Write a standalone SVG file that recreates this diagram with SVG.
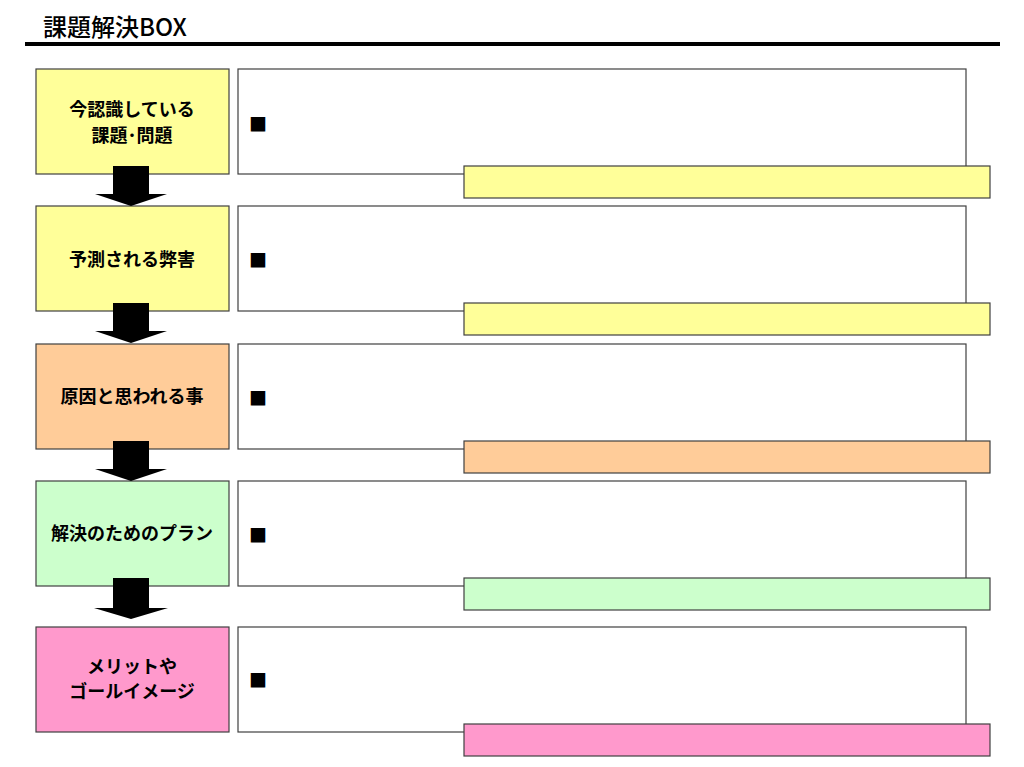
<svg xmlns="http://www.w3.org/2000/svg" width="1024" height="767" viewBox="0 0 1024 767">
<style>
.lbl{font-family:"Noto Sans CJK JP","Noto Sans CJK SC",sans-serif;font-weight:bold;font-size:18px;fill:#000;text-anchor:middle}
.sq{font-family:"Noto Sans CJK JP",sans-serif;font-size:18px;fill:#000}
.box{stroke:#404040;stroke-width:1.2}
.wb{fill:#fff;stroke:#404040;stroke-width:1.2}
.y{fill:#FFFF99}.o{fill:#FFCC99}.g{fill:#CCFFCC}.p{fill:#FF99CC}
.arr{fill:#000}
</style>
<rect width="1024" height="767" fill="#fff"/>
<g id="title">
<text x="43" y="36" font-family="Noto Sans CJK JP,sans-serif" font-size="24" font-weight="500">課題解決BOX</text>
<rect x="25" y="42" width="975" height="4" fill="#000"/>
</g>
<g id="n1">
<rect class="box y" x="36" y="69" width="193" height="105"/>
<text class="lbl" x="132" y="116">今認識している</text>
<text class="lbl" x="132" y="142">課題･問題</text>
<rect class="wb" x="238" y="69" width="728" height="105"/>
<text class="sq" x="249" y="131">■</text>
<rect class="box y" x="464" y="166" width="526" height="32"/>
</g>
<g id="n2">
<rect class="box y" x="36" y="206" width="193" height="105"/>
<text class="lbl" x="132" y="266">予測される弊害</text>
<rect class="wb" x="238" y="206" width="728" height="105"/>
<text class="sq" x="249" y="267">■</text>
<rect class="box y" x="464" y="303" width="526" height="32"/>
</g>
<g id="n3">
<rect class="box o" x="36" y="344" width="193" height="105"/>
<text class="lbl" x="132" y="403">原因と思われる事</text>
<rect class="wb" x="238" y="344" width="728" height="105"/>
<text class="sq" x="249" y="405">■</text>
<rect class="box o" x="464" y="441" width="526" height="32"/>
</g>
<g id="n4">
<rect class="box g" x="36" y="481" width="193" height="105"/>
<text class="lbl" x="132" y="540">解決のためのプラン</text>
<rect class="wb" x="238" y="481" width="728" height="105"/>
<text class="sq" x="249" y="542">■</text>
<rect class="box g" x="464" y="578" width="526" height="32"/>
</g>
<g id="n5">
<rect class="box p" x="36" y="627" width="193" height="105"/>
<text class="lbl" x="132" y="673">メリットや</text>
<text class="lbl" x="132" y="698">ゴールイメージ</text>
<rect class="wb" x="238" y="627" width="728" height="105"/>
<text class="sq" x="249" y="687">■</text>
<rect class="box p" x="464" y="724" width="526" height="32"/>
</g>
<g id="connectors">
<polygon class="arr" points="113,166 149,166 149,194 167,194 131,206 95,194 113,194"/>
<polygon class="arr" points="113,303 149,303 149,331 167,331 131,343 95,331 113,331"/>
<polygon class="arr" points="113,441 149,441 149,469 167,469 131,481 95,469 113,469"/>
<polygon class="arr" points="113,578 149,578 149,608 168,608 131,619 94,608 113,608"/>
</g>
</svg>
